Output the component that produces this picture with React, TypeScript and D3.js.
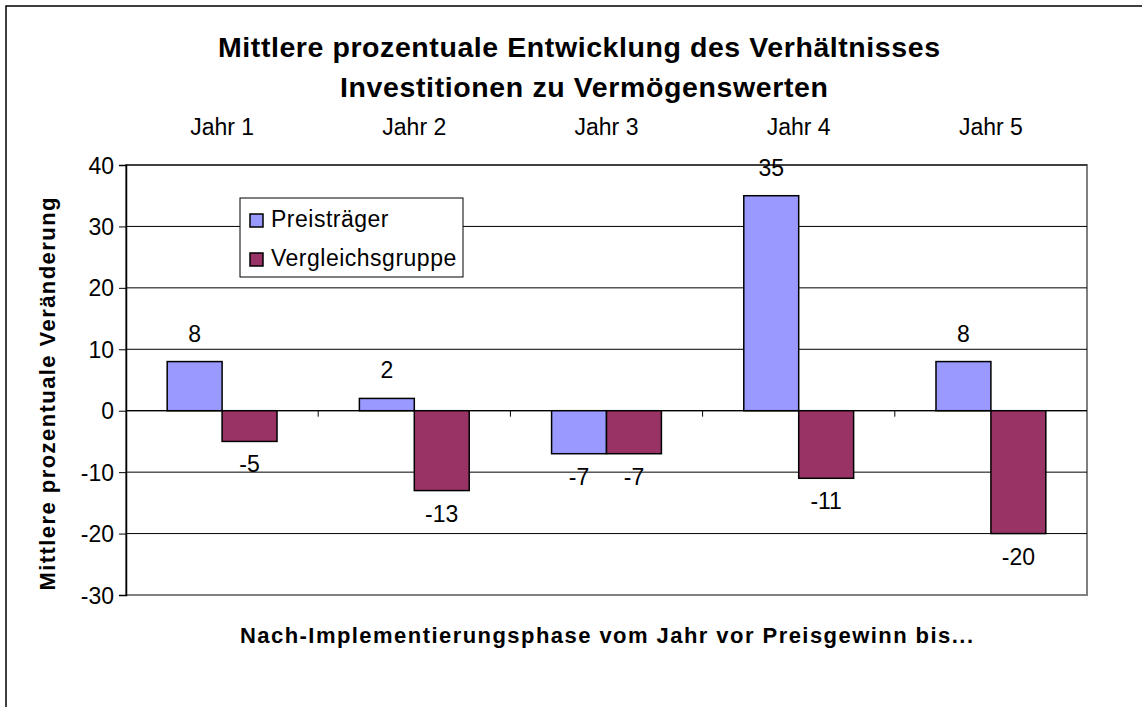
import React, { useEffect, useRef } from "react";
import * as d3 from "d3";

const categories = ["Jahr 1", "Jahr 2", "Jahr 3", "Jahr 4", "Jahr 5"];
const seriesNames = ["Preisträger", "Vergleichsgruppe"];
const preistraeger = [8, 2, -7, 35, 8];
const vergleichsgruppe = [-5, -13, -7, -11, -20];
const yTicks = [-30, -20, -10, 0, 10, 20, 30, 40];

const colors = ["#9999FF", "#993366"];
const font = "'Liberation Sans', Arial, sans-serif";

export default function App() {
  const ref = useRef<SVGSVGElement>(null);

  useEffect(() => {
    const svg = d3.select(ref.current);
    svg.selectAll("*").remove();

    const width = 1142, height = 707;
    const plot = { left: 126, right: 1087, top: 165, bottom: 595 };

    const x = d3.scaleBand().domain(categories).range([plot.left, plot.right]).padding(0);
    const xInner = d3.scaleBand().domain(seriesNames).range([0, x.bandwidth()])
      .paddingInner(0).paddingOuter(0.75);
    const y = d3.scaleLinear().domain([-30, 40]).range([plot.bottom, plot.top]);

    // outer chart frame (runs off the right/bottom edge)
    svg.append("rect")
      .attr("x", 6).attr("y", 6)
      .attr("width", width + 10).attr("height", height + 10)
      .attr("fill", "white").attr("stroke", "#000").attr("stroke-width", 1.5);

    // plot area
    svg.append("rect")
      .attr("x", plot.left).attr("y", plot.top)
      .attr("width", plot.right - plot.left).attr("height", plot.bottom - plot.top)
      .attr("fill", "white").attr("stroke", "#808080").attr("stroke-width", 2);

    // gridlines
    svg.append("g").selectAll("line")
      .data(yTicks.filter(t => t !== -30))
      .join("line")
      .attr("x1", plot.left).attr("x2", plot.right)
      .attr("y1", d => y(d)).attr("y2", d => y(d))
      .attr("stroke", "#000").attr("stroke-width", 1);

    // y axis
    const yAxis = svg.append("g").attr("transform", `translate(${plot.left},0)`)
      .call(d3.axisLeft(y).tickValues(yTicks).tickSize(7).tickPadding(5).tickFormat(d => String(d)));
    yAxis.select(".domain").attr("stroke", "#000").attr("stroke-width", 1.5);
    yAxis.selectAll(".tick line").attr("stroke", "#000");
    yAxis.selectAll("text").attr("font-family", font).attr("font-size", 23).attr("fill", "#000")
      .attr("dy", "0.35em");

    // category axis on zero line
    svg.append("line")
      .attr("x1", plot.left).attr("x2", plot.right)
      .attr("y1", y(0)).attr("y2", y(0))
      .attr("stroke", "#000").attr("stroke-width", 1.2);
    svg.append("g").selectAll("line")
      .data(categories.slice(1))
      .join("line")
      .attr("x1", d => x(d)!).attr("x2", d => x(d)!)
      .attr("y1", y(0)).attr("y2", y(0) + 6)
      .attr("stroke", "#000");

    // category labels above the plot
    svg.append("g").selectAll("text")
      .data(categories)
      .join("text")
      .attr("x", d => x(d)! + x.bandwidth() / 2)
      .attr("y", 135)
      .attr("text-anchor", "middle")
      .attr("font-family", font).attr("font-size", 23)
      .text(d => d);

    // bars
    const rows = categories.map((c, i) => ({
      cat: c,
      vals: [preistraeger[i], vergleichsgruppe[i]],
    }));
    const groups = svg.append("g").selectAll("g")
      .data(rows)
      .join("g")
      .attr("transform", d => `translate(${x(d.cat)},0)`);

    groups.selectAll("rect")
      .data(d => d.vals.map((v, j) => ({ name: seriesNames[j], v, j })))
      .join("rect")
      .attr("x", d => xInner(d.name)!)
      .attr("width", xInner.bandwidth())
      .attr("y", d => y(Math.max(0, d.v)))
      .attr("height", d => Math.abs(y(d.v) - y(0)))
      .attr("fill", d => colors[d.j])
      .attr("stroke", "#000").attr("stroke-width", 1.5);

    groups.selectAll("text")
      .data(d => d.vals.map((v, j) => ({ name: seriesNames[j], v, j })))
      .join("text")
      .attr("x", d => xInner(d.name)! + xInner.bandwidth() / 2)
      .attr("y", d => d.v >= 0 ? y(d.v) - 20 : y(d.v) + 31)
      .attr("text-anchor", "middle")
      .attr("font-family", font).attr("font-size", 23)
      .text(d => d.v);

    // legend
    const legend = svg.append("g").attr("transform", "translate(240,198)");
    legend.append("rect")
      .attr("width", 223).attr("height", 79)
      .attr("fill", "white").attr("stroke", "#000").attr("stroke-width", 1);
    const items = legend.selectAll("g.item")
      .data(seriesNames)
      .join("g")
      .attr("class", "item")
      .attr("transform", (d, i) => `translate(0,${i * 39})`);
    items.append("rect")
      .attr("x", 10).attr("y", 16).attr("width", 13).attr("height", 13)
      .attr("fill", (d, i) => colors[i]).attr("stroke", "#000").attr("stroke-width", 1.5);
    items.append("text")
      .attr("x", 31).attr("y", 29)
      .attr("font-family", font).attr("font-size", 23).attr("letter-spacing", 0.5)
      .text(d => d);

    // titles (Excel renders them a little wider, so stretch the spacing to match)
    const title = svg.append("text")
      .attr("text-anchor", "middle")
      .attr("font-family", font).attr("font-size", 28.5).attr("font-weight", "bold");
    title.append("tspan").attr("x", 579).attr("y", 57)
      .attr("textLength", 722).attr("lengthAdjust", "spacing")
      .text("Mittlere prozentuale Entwicklung des Verhältnisses");
    title.append("tspan").attr("x", 584).attr("y", 97)
      .attr("textLength", 488).attr("lengthAdjust", "spacing")
      .text("Investitionen zu Vermögenswerten");

    svg.append("text")
      .attr("x", (plot.left + plot.right) / 2).attr("y", 643)
      .attr("text-anchor", "middle")
      .attr("textLength", 733).attr("lengthAdjust", "spacing")
      .attr("font-family", font).attr("font-size", 22).attr("font-weight", "bold")
      .text("Nach-Implementierungsphase vom Jahr vor Preisgewinn bis...");

    svg.append("text")
      .attr("transform", "translate(55,394) rotate(-90)")
      .attr("text-anchor", "middle")
      .attr("textLength", 393).attr("lengthAdjust", "spacing")
      .attr("font-family", font).attr("font-size", 22).attr("font-weight", "bold")
      .text("Mittlere prozentuale Veränderung");
  }, []);

  return (
    <svg ref={ref} width={1142} height={707}
      style={{ position: "absolute", left: 0, top: 0, background: "white" }} />
  );
}
